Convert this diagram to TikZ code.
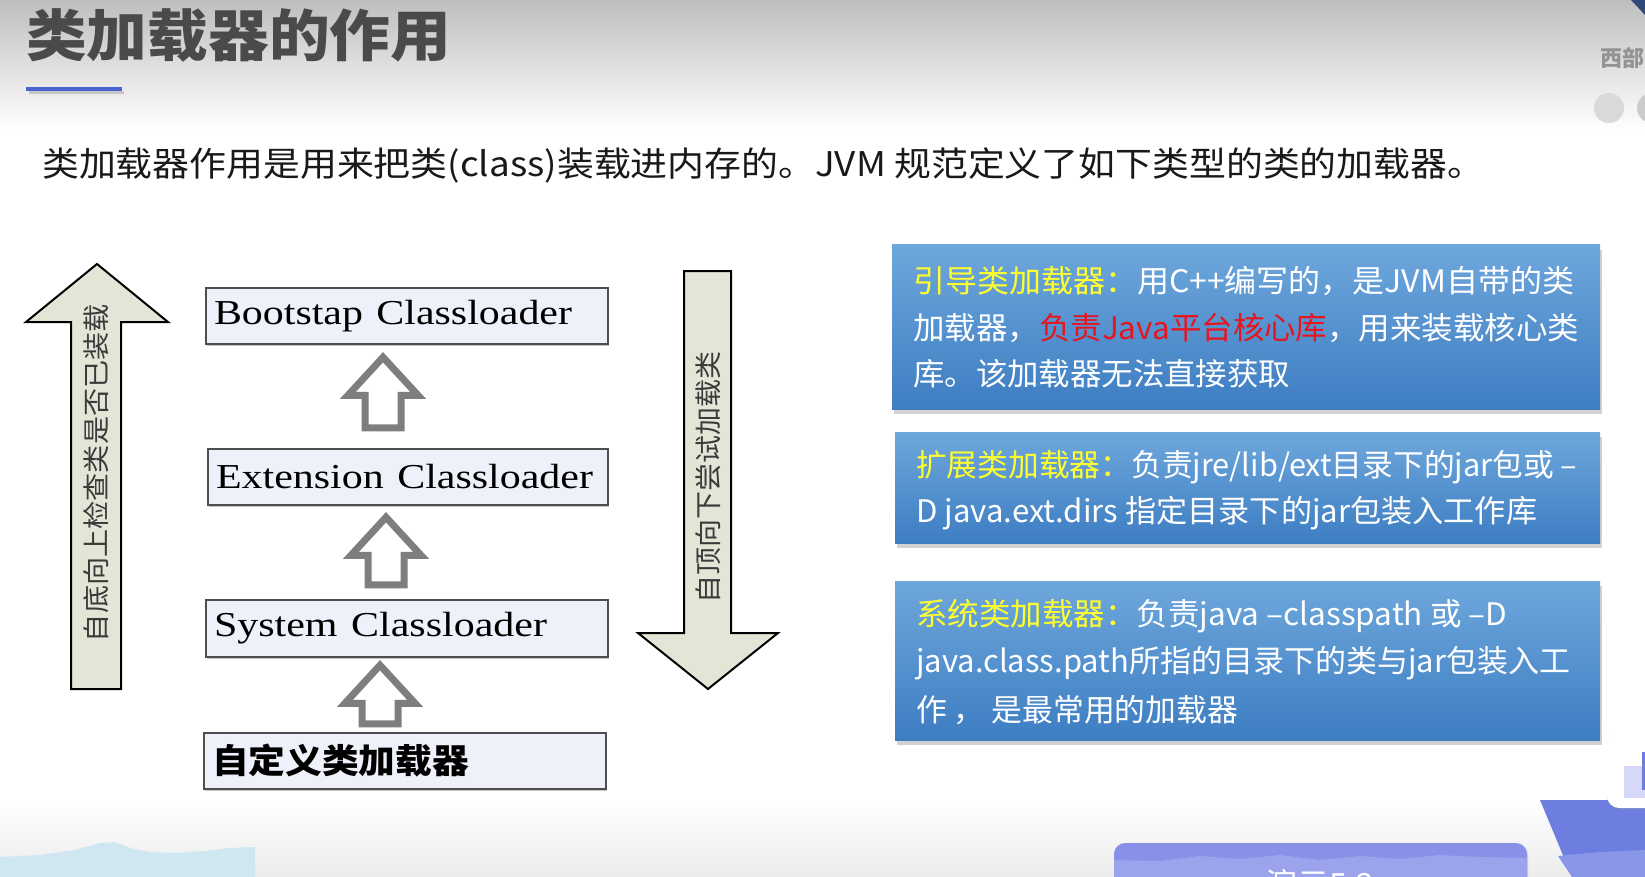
\documentclass[tikz,border=0pt]{standalone}
\usepackage{fontspec}
\usepackage{graphicx}
\setmainfont{Noto Sans CJK SC}
\newfontfamily\enserif{Liberation Serif}
\usetikzlibrary{shadows,calc}

\definecolor{pagetop}{HTML}{BEBEBE}
\definecolor{pagebottom}{HTML}{ECECEC}
\definecolor{titlegray}{HTML}{4A4A4A}
\definecolor{rulebar}{HTML}{4A64D2}
\definecolor{boxfill}{HTML}{EEF0FA}
\definecolor{boxedge}{HTML}{4E4E4E}
\definecolor{bigarrow}{HTML}{E3E6D6}
\definecolor{hollowgray}{HTML}{7E7E7E}
\definecolor{sidetext}{HTML}{3A3A3A}
\definecolor{paneltop}{HTML}{6EA7DC}
\definecolor{panelbot}{HTML}{3D7DC2}
\definecolor{headyellow}{HTML}{FFFF2E}
\definecolor{corered}{HTML}{E8141E}
\definecolor{lilac}{HTML}{8890E8}
\definecolor{lilaclight}{HTML}{9AA3EC}
\definecolor{slateblue}{HTML}{6E7EE0}
\definecolor{slatelight}{HTML}{8A96E8}
\definecolor{hillblue}{HTML}{CFE7F1}
\definecolor{navycorner}{HTML}{2F4A78}

% stretch a text horizontally to a given width, keeping its height
\newcommand\fitw[2]{\resizebox{#1pt}{\height}{#2}}
% serif loader name, with a wider word gap
\newcommand\loadername[2]{\fitw{#1}{\enserif\fontsize{35}{40}\selectfont #2\hspace{0.32em}Classloader}}

\begin{document}
\begin{tikzpicture}[x=1pt,y=-1pt,
  loaderbox/.style={draw=boxedge, line width=2.5pt, fill=boxfill, inner xsep=8pt,
    text width=386pt, align=left,
    drop shadow={shadow xshift=1pt, shadow yshift=-2pt, opacity=0.45}},
  panel/.style={top color=paneltop, bottom color=panelbot, draw=none,
    drop shadow={shadow xshift=2pt, shadow yshift=-5pt, opacity=0.35}},
  paneltext/.style={anchor=west, inner sep=0pt, text=white, font=\fontsize{31}{36}\selectfont},
  sidelabel/.style={rotate=90, inner sep=0pt, text=sidetext, font=\fontsize{27}{30}\selectfont},
  bigarrowshape/.style={fill=bigarrow, draw=black, line width=2pt, line join=miter},
  hollowline/.style={draw=hollowgray, fill=white, line width=7pt, line join=miter},
  pics/hollowup/.style={code={
    \draw[hollowline] (0,5) -- (35,43) -- (18,43) -- (18,#1-3.5) -- (-18,#1-3.5)
      -- (-18,43) -- (-35,43) -- cycle;}}
]
\useasboundingbox (0,0) rectangle (1645,877);
\clip (0,0) rectangle (1645,877);

% page background
\fill[white] (0,0) rectangle (1645,877);
\shade[top color=pagetop, bottom color=white] (0,0) rectangle (1645,130);
\shade[top color=white, bottom color=pagebottom] (0,800) rectangle (1645,877);

% header
\node[anchor=west, inner sep=0pt, text=titlegray] (title) at (26,36)
  {\fitw{425}{\fontsize{56}{60}\selectfont\bfseries 类加载器的作用}};
\draw[gray!45, line width=3pt] (29,93) -- (124,93);
\draw[rulebar, line width=3.5pt] (26,89) -- (122,89);

\node[anchor=west, inner sep=0pt, text=gray!85] (brand) at (1600,58)
  {\fontsize{22}{24}\selectfont\bfseries 西部};
\fill[gray!30] (1609,108) circle (15);
\fill[gray!40] (1652,108) circle (15);
\fill[navycorner] (1631,0) -- (1645,0) -- (1645,15) -- cycle;

\node[anchor=west, inner sep=0pt, text=black!90] (intro) at (42,165)
  {\fitw{1442}{\fontsize{34}{40}\selectfont 类加载器作用是用来把类(class)装载进内存的。JVM 规范定义了如下类型的类的加载器。}};

% direction arrows at the sides of the hierarchy
\draw[bigarrowshape] (97,264) -- (168,322) -- (121,322) -- (121,689) -- (71,689)
  -- (71,322) -- (26,322) -- cycle;
\node[sidelabel] (upward) at (96,473) {\fitw{338}{自底向上检查类是否已装载}};

\draw[bigarrowshape] (684,271) -- (731,271) -- (731,633) -- (778,633) -- (708,689)
  -- (638,633) -- (684,633) -- cycle;
\node[sidelabel] (downward) at (708,477) {\fitw{252}{自顶向下尝试加载类}};

% class loader hierarchy
\node[loaderbox, minimum width=402pt, minimum height=56pt] (boot) at (407,316)
  {\loadername{358}{Bootstap}};
\node[loaderbox, minimum width=400pt, minimum height=56pt, text width=384pt] (ext) at (408,477)
  {\loadername{377}{Extension}};
\node[loaderbox, minimum width=402pt, minimum height=57pt] (sys) at (407,628.5)
  {\loadername{333}{System}};
\node[loaderbox, minimum width=402pt, minimum height=56pt] (custom) at (405,761)
  {\fitw{257}{\fontsize{34}{40}\selectfont\bfseries 自定义类加载器}};

\pic at ($(boot.south)+(-24,7)$) {hollowup=79};
\pic at ($(ext.south)+(-22,6)$) {hollowup=76};
\pic at ($(sys.south)+(-27,2)$) {hollowup=67};

% description panels
\node[panel, minimum width=708pt, minimum height=164pt] (p1) at (1246,327) {};
\node[paneltext] (p1a) at (913,281)
  {\fitw{661}{{\color{headyellow}引导类加载器：}用C++编写的，是JVM自带的类}};
\node[paneltext] (p1b) at (913,328)
  {\fitw{666}{加载器，{\color{corered}负责Java平台核心库}，用来装载核心类}};
\node[paneltext] (p1c) at (913,374)
  {\fitw{377}{库。该加载器无法直接获取}};

\node[panel, minimum width=705pt, minimum height=111pt] (p2) at (1247.5,487.5) {};
\node[paneltext] (p2a) at (916,467)
  {\fitw{661}{{\color{headyellow}扩展类加载器：}负责jre/lib/ext目录下的jar包或 –}};
\node[paneltext] (p2b) at (916,513)
  {\fitw{621}{D java.ext.dirs 指定目录下的jar包装入工作库}};

\node[panel, minimum width=705pt, minimum height=159pt] (p3) at (1247.5,660.5) {};
\node[paneltext] (p3a) at (916,616)
  {\fitw{591}{{\color{headyellow}系统类加载器：}负责java –classpath 或 –D}};
\node[paneltext] (p3b) at (916,663)
  {\fitw{654}{java.class.path所指的目录下的类与jar包装入工}};
\node[paneltext] (p3c) at (916,710)
  {\fitw{322}{作 ， 是最常用的加载器}};

% footer decorations
\fill[hillblue] (0,857) -- (40,855) -- (75,850) -- (100,843) -- (115,842) -- (130,848)
  -- (150,852) -- (175,853) -- (205,851) -- (230,848) -- (255,847) -- (255,877)
  -- (0,877) -- cycle;

\fill[lilac, rounded corners=11pt, drop shadow={shadow xshift=1pt, shadow yshift=-1pt, opacity=0.25}]
  (1114,900) -- (1114,843) -- (1527,843) -- (1527,900) -- cycle;
\fill[lilaclight] (1114,860) -- (1160,861) -- (1200,856) -- (1240,859) -- (1280,855)
  -- (1320,860) -- (1360,856) -- (1400,859) -- (1440,855) -- (1480,857) -- (1527,858)
  -- (1527,877) -- (1114,877) -- cycle;
\node[text=white, inner sep=0pt] (demo) at (1320,884)
  {\fontsize{32}{34}\selectfont 演示5.2};

\fill[slateblue] (1540,800) -- (1645,800) -- (1645,877) -- (1572,877) -- cycle;
\fill[slatelight] (1558,856) -- (1600,852) -- (1645,850) -- (1645,877) -- (1572,877) -- cycle;

\draw[white, line width=6pt, line cap=round] (1634,731) -- (1639,717);
\fill[white, rounded corners=12pt, drop shadow={shadow xshift=0pt, shadow yshift=-1pt, opacity=0.3}]
  (1607,730) rectangle (1665,808);
\fill[boxfill!90!blue] (1624,766) rectangle (1645,798);
\fill[slateblue] (1642,752) rectangle (1645,790);
\end{tikzpicture}
\end{document}
